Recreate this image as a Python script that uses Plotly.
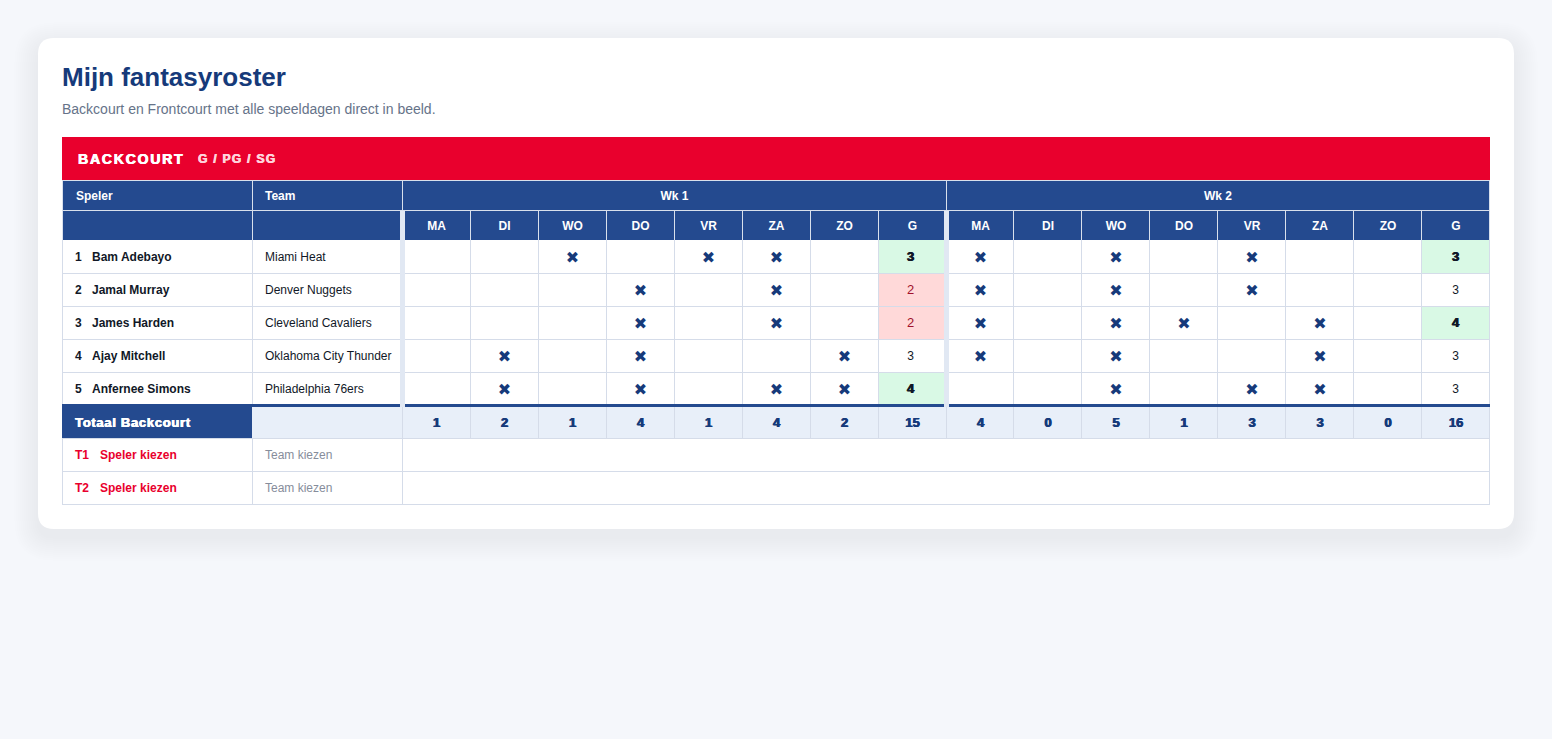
import plotly.graph_objects as go

# ---------- data ----------
TITLE = "Mijn fantasyroster"
SUBTITLE = "Backcourt en Frontcourt met alle speeldagen direct in beeld."
SECTION = "BACKCOURT"
POSITIONS = "G / PG / SG"
COL_PLAYER = "Speler"
COL_TEAM = "Team"
WEEKS = ["Wk 1", "Wk 2"]
DAYS = ["MA", "DI", "WO", "DO", "VR", "ZA", "ZO", "G"]
RANKS = ["1", "2", "3", "4", "5"]
PLAYERS = ["Bam Adebayo", "Jamal Murray", "James Harden", "Ajay Mitchell", "Anfernee Simons"]
TEAMS = ["Miami Heat", "Denver Nuggets", "Cleveland Cavaliers", "Oklahoma City Thunder", "Philadelphia 76ers"]
WK1_GAMES = [
    [0, 0, 1, 0, 1, 1, 0],
    [0, 0, 0, 1, 0, 1, 0],
    [0, 0, 0, 1, 0, 1, 0],
    [0, 1, 0, 1, 0, 0, 1],
    [0, 1, 0, 1, 0, 1, 1],
]
WK2_GAMES = [
    [1, 0, 1, 0, 1, 0, 0],
    [1, 0, 1, 0, 1, 0, 0],
    [1, 0, 1, 1, 0, 1, 0],
    [1, 0, 1, 0, 0, 1, 0],
    [0, 0, 1, 0, 1, 1, 0],
]
WK1_G = [3, 2, 2, 3, 4]
WK2_G = [3, 3, 4, 3, 3]
WK1_STATE = ["good", "bad", "bad", "", "good"]
WK2_STATE = ["good", "", "good", "", ""]
TOTAL_LABEL = "Totaal Backcourt"
WK1_TOTALS = [1, 2, 1, 4, 1, 4, 2, 15]
WK2_TOTALS = [4, 0, 5, 1, 3, 3, 0, 16]
RESERVE_TAGS = ["T1", "T2"]
RESERVE_PLAYER = "Speler kiezen"
RESERVE_TEAM = "Team kiezen"
MARK = "\u2716"

# ---------- styling and geometry ----------
W, H = 1552, 739
FONT = "Liberation Sans, Arial, sans-serif"
PAGE = "#f5f7fb"
CARD = "#ffffff"
NAVY = "#244a8f"
INK = "#163a7a"
RED = "#e9002d"
GRID = "#d5dce9"
HEADLINE = "#d9e0ec"
DIVIDER = "#e1e8f3"
TOTAL_BG = "#e8eff9"
GOOD = "#d9f9e5"
BAD = "#ffd9d9"
DARK = "#111827"

X_LEFT, X_PLAYER, X_TEAM, X_RIGHT = 62, 252, 402, 1490
WK1_EDGES = [402, 470, 538, 606, 674, 742, 810, 878, 946]
WK2_EDGES = [946, 1013, 1081, 1149, 1217, 1285, 1353, 1421, 1489]
ROW_TOPS = [240, 273, 306, 339, 372]
ROW_H = 33
Y_BANNER, Y_HEAD1, Y_HEAD2, Y_HEAD3 = 137, 180, 210, 240
Y_TOTAL, Y_T1, Y_T2, Y_END = 405, 438, 471, 504

shapes = []


def rect(x0, y0, x1, y1, color):
    shapes.append(dict(type="rect", x0=x0, x1=x1, y0=y0, y1=y1, fillcolor=color,
                       line=dict(width=0), layer="below"))


def rounded(x0, y0, x1, y1, r, color, opacity=1.0):
    path = (f"M{x0 + r},{y0} L{x1 - r},{y0} Q{x1},{y0} {x1},{y0 + r} L{x1},{y1 - r} "
            f"Q{x1},{y1} {x1 - r},{y1} L{x0 + r},{y1} Q{x0},{y1} {x0},{y1 - r} "
            f"L{x0},{y0 + r} Q{x0},{y0} {x0 + r},{y0} Z")
    shapes.append(dict(type="path", path=path, fillcolor=color, opacity=opacity,
                       line=dict(width=0), layer="below"))


# soft card shadow
for i in range(12):
    g = 24 - i * 2
    rounded(38 - g, 38 - g + 8, 1514 + g, 529 + g + 8, 16 + g, "#1d3a70", 0.004)
rounded(38, 38, 1514, 529, 16, CARD)

# banner and header
rect(X_LEFT, Y_BANNER, X_RIGHT, Y_HEAD1, RED)
rect(X_LEFT, Y_HEAD1, X_RIGHT, Y_HEAD3, NAVY)

# highlighted games cells
for edges, states in ((WK1_EDGES, WK1_STATE), (WK2_EDGES, WK2_STATE)):
    for top, state in zip(ROW_TOPS, states):
        if state:
            rect(edges[-2], top, edges[-1], top + ROW_H, GOOD if state == "good" else BAD)

# totals row
rect(X_LEFT, Y_TOTAL, X_PLAYER, Y_T1, NAVY)
rect(X_PLAYER, Y_TOTAL, X_RIGHT, Y_T1, TOTAL_BG)

# grid lines, body
for y in ROW_TOPS[1:] + [Y_T1, Y_T2, Y_END]:
    rect(X_LEFT, y, X_RIGHT, y + 1, GRID)
rect(X_LEFT, Y_HEAD3, X_LEFT + 1, Y_TOTAL, GRID)
rect(X_LEFT, Y_T1, X_LEFT + 1, Y_END + 1, GRID)
rect(X_RIGHT - 1, Y_HEAD3, X_RIGHT, Y_END + 1, GRID)
for x in (X_PLAYER, X_TEAM):
    rect(x, Y_HEAD3, x + 1, Y_T1 if x == X_TEAM else Y_TOTAL, GRID)
    rect(x, Y_TOTAL if x == X_TEAM else Y_T1, x + 1, Y_END + 1, GRID)
for edges in (WK1_EDGES, WK2_EDGES):
    for x in edges[1:-1]:
        rect(x, Y_HEAD3, x + 1, Y_T1, GRID)
rect(946, Y_TOTAL, 947, Y_T1, GRID)

# grid lines, header
for y in (Y_HEAD1, Y_HEAD2):
    rect(X_LEFT, y, X_RIGHT, y + 1, HEADLINE)
rect(X_LEFT, Y_HEAD1, X_LEFT + 1, Y_HEAD3, HEADLINE)
rect(X_RIGHT - 1, Y_HEAD1, X_RIGHT, Y_HEAD3, HEADLINE)
for x in (X_PLAYER, X_TEAM, 946):
    rect(x, Y_HEAD1, x + 1, Y_HEAD3, HEADLINE)
for edges in (WK1_EDGES, WK2_EDGES):
    for x in edges[1:-1]:
        rect(x, Y_HEAD2, x + 1, Y_HEAD3, HEADLINE)

# heavy line above totals, and the two week dividers
rect(X_LEFT, Y_TOTAL - 1, X_RIGHT, Y_TOTAL + 2, NAVY)
for x in (400, 944):
    rect(x, Y_HEAD2 + 1, x + 5, Y_TOTAL + 2, DIVIDER)

fig = go.Figure()


def add_text(xs, ys, texts, size, color, weight=400, pos="middle center", family=FONT, heavy=False):
    font = dict(family=family, size=size, color=color, weight=weight)
    if heavy:
        font["shadow"] = f"0.5px 0 0 {color}, -0.3px 0 0 {color}"
    fig.add_trace(go.Scatter(x=xs, y=ys, text=texts, mode="text", textposition=pos,
                             textfont=font, hoverinfo="skip", showlegend=False, cliponaxis=False))


def centers(edges, nudge=0.5):
    return [(a + b) / 2 + nudge for a, b in zip(edges, edges[1:])]


add_text([62], [79], [TITLE], 26, INK, 700, "middle right")
add_text([62], [110], [SUBTITLE], 14, "#667389", 400, "middle right")
add_text([78], [160], [SECTION], 14, "#ffffff", 700, "middle right", heavy=True)
add_text([198], [160], [POSITIONS], 12, "#ffd3dc", 700, "middle right", heavy=True)
add_text([76, 265], [196.5, 196.5], [COL_PLAYER, COL_TEAM], 12, "#ffffff", 700, "middle right")

wk_centers = [(402 + 946) / 2 + 0.5, (946 + 1489) / 2 + 0.5]
add_text(wk_centers, [196.5, 196.5], WEEKS, 12, "#ffffff", 700)
cx1, cx2 = centers(WK1_EDGES), centers(WK2_EDGES, 1.0)
add_text(cx1 + cx2, [226.5] * 16, DAYS + DAYS, 12, "#ffffff", 700)

row_cy = [t + ROW_H / 2 + 1.5 for t in ROW_TOPS]
add_text([75] * 5, row_cy, RANKS, 12, DARK, 700, "middle right")
add_text([92] * 5, row_cy, PLAYERS, 12, DARK, 700, "middle right")
add_text([265] * 5, row_cy, TEAMS, 12, DARK, 400, "middle right")

# game marks
mx, my = [], []
for games, cols in ((WK1_GAMES, cx1), (WK2_GAMES, cx2)):
    for row, cy in zip(games, row_cy):
        for played, cx in zip(row, cols):
            if played:
                mx.append(cx)
                my.append(cy + 1)
add_text(mx, my, [MARK] * len(mx), 16, INK, 400, family="DejaVu Sans")

# per-week game counts
for values, states, cx in ((WK1_G, WK1_STATE, cx1[-1] - 2), (WK2_G, WK2_STATE, cx2[-1] - 0.5)):
    for value, state, cy in zip(values, states, row_cy):
        if state == "good":
            add_text([cx], [cy], [str(value)], 13, DARK, 700, heavy=True)
        elif state == "bad":
            add_text([cx], [cy], [str(value)], 13, "#a1122c", 400)
        else:
            add_text([cx], [cy], [str(value)], 12, DARK, 400)

# totals
total_cy = (Y_TOTAL + Y_T1) / 2 + 2
add_text([75], [total_cy], [TOTAL_LABEL], 13, "#ffffff", 700, "middle right", heavy=True)
add_text(cx1 + cx2, [total_cy] * 16, [str(v) for v in WK1_TOTALS + WK2_TOTALS], 13, INK, 700, heavy=True)

# reserves
res_cy = [(Y_T1 + Y_T2) / 2 + 1.5, (Y_T2 + Y_END) / 2 + 1.5]
add_text([75, 75], res_cy, RESERVE_TAGS, 12, RED, 700, "middle right")
add_text([100, 100], res_cy, [RESERVE_PLAYER] * 2, 12, RED, 700, "middle right")
add_text([265, 265], res_cy, [RESERVE_TEAM] * 2, 12, "#868d9b", 400, "middle right")

fig.update_layout(
    width=W, height=H, margin=dict(l=0, r=0, t=0, b=0, pad=0),
    paper_bgcolor=PAGE, plot_bgcolor=PAGE, shapes=shapes, showlegend=False,
    xaxis=dict(range=[0, W], visible=False, fixedrange=True),
    yaxis=dict(range=[H, 0], visible=False, fixedrange=True),
)

post = """
document.documentElement.style.background = '%s';
document.body.style.margin = '0';
document.body.style.overflow = 'hidden';
document.querySelectorAll('.textpoint text').forEach(function (t) {
  if (t.textContent === '%s') t.style.letterSpacing = '1.8px';
  if (t.textContent === '%s') t.style.letterSpacing = '1.3px';
  if (t.textContent === '%s') t.style.letterSpacing = '0.7px';
});
""" % (PAGE, SECTION, POSITIONS, TOTAL_LABEL)
fig.write_html("out.html", post_script=post, config=dict(displayModeBar=False))
